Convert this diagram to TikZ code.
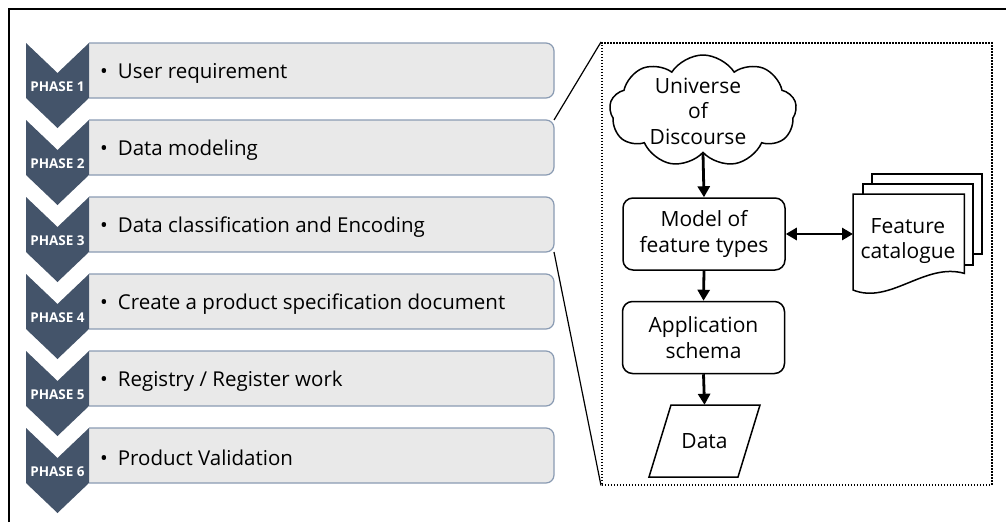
\documentclass[tikz,border=0pt]{standalone}
\usepackage{fontspec}
\setmainfont{Open Sans}
\usetikzlibrary{shapes.symbols,shapes.geometric,arrows.meta}
\definecolor{chev}{HTML}{44546A}
\definecolor{boxfill}{HTML}{E9E9E9}
\definecolor{boxline}{HTML}{8A9BB3}
\newcommand\phaserow[3]{%
  \node[phaseframe] (b#1) at (89,#2) {};
  \path[phasebox] (b#1.north west) -- (b#1.north east) -- (b#1.south east) -- (b#1.south west);
  \fill[chev] (26,#2) -- (57.5,#2+30) -- (89,#2) -- (89,#2+55) -- (57.5,#2+85) -- (26,#2+55) -- cycle;
  \node[phaselabel] (p#1) at (57.5,#2+44) {PHASE #1};
  \node[itemtext] (t#1) at (100,#2+30) {•\hspace{10pt}#3};
}
\begin{document}
\begin{tikzpicture}[x=1pt,y=-1pt,
  phaseframe/.style={minimum width=465pt,minimum height=55pt,anchor=north west,inner sep=0pt,outer sep=0pt},
  phasebox/.style={fill=boxfill,draw=boxline,line width=1.2pt,rounded corners=8pt},
  phaselabel/.style={text=white,font=\bfseries\fontsize{13.5}{15}\selectfont,inner sep=0pt},
  itemtext/.style={font=\fontsize{20.5}{24}\selectfont,anchor=west,inner sep=0pt},
  flowbox/.style={draw,line width=1.5pt,rounded corners=10pt,minimum width=162pt,minimum height=72pt,align=center,inner sep=0pt,font=\fontsize{21}{25.5}\selectfont},
  flowtext/.style={align=center,inner sep=0pt,font=\fontsize{21}{25.5}\selectfont},
  flowarrow/.style={line width=2.8pt,-{Triangle[length=11pt,width=12pt]}},
  biarrow/.style={line width=2.8pt,{Triangle[length=11pt,width=12pt]}-{Triangle[length=11pt,width=12pt]}},
  docshape/.style={fill=white,draw,line width=1.5pt},
  zoomline/.style={line width=1.2pt}]
\useasboundingbox (0,0) rectangle (1006,522);
% outer frame (left and top edges visible)
\draw[line width=1.8pt] (9,522) -- (9,9) -- (1006,9);

\phaserow{1}{43}{User requirement}
\phaserow{2}{120}{Data modeling}
\phaserow{3}{197}{Data classification and Encoding}
\phaserow{4}{274}{Create a product specification document}
\phaserow{5}{351}{Registry / Register work}
\phaserow{6}{428}{Product Validation}

% zoom box
\node[draw,dash pattern=on 1.5pt off 1.5pt,line width=1.5pt,minimum width=390pt,minimum height=442pt,anchor=north west,inner sep=0pt] (zoom) at (601,42) {};
\draw[zoomline] (b2.north east) -- (zoom.north west);
\draw[zoomline] (b3.south east) -- (zoom.south west);

% cloud
\node[cloud,draw,line width=1.5pt,cloud puffs=9,cloud puff arc=115,aspect=1.7,minimum width=187pt,minimum height=112pt,inner sep=0pt] (uod) at (703,111) {};
\node[flowtext] (uodtext) at (698,111) {Universe\\of\\Discourse};

\node[flowbox] (model) at (704,234) {Model of\\feature types};
\node[flowbox] (app) at (703.5,337.5) {Application\\schema};
\node[minimum width=89pt,minimum height=72pt,inner sep=0pt,font=\fontsize{21}{25.5}\selectfont] (data) at (704.5,441) {Data};
\draw[line width=1.5pt] (671,405) -- (760,405) -- (738,477) -- (649,477) -- cycle;

% feature catalogue (multi-document)
\filldraw[docshape] (872,174) rectangle (982,254);
\filldraw[docshape] (863,184) rectangle (973,265);
\node[minimum width=111pt,minimum height=79pt,anchor=north west,inner sep=0pt] (fc) at (853,194) {};
\filldraw[docshape] (fc.north west) -- (fc.north east) -- (fc.south east) .. controls (925,262) and (890,305) .. (853,290) -- cycle;
\node[flowtext] (fclabel) at (908,241) {Feature\\catalogue};

% connectors
\draw[flowarrow] (uod.south) -- (model.north);
\draw[flowarrow] (model.south) -- (app.north);
\draw[flowarrow] (app.south) -- (data.north);
\draw[biarrow] (model.east) -- (model.east -| fc.west);
\end{tikzpicture}
\end{document}
